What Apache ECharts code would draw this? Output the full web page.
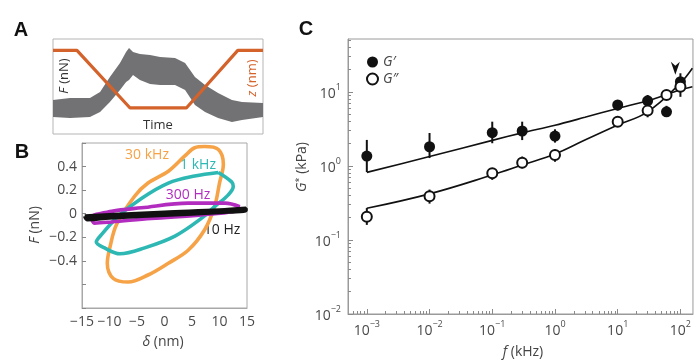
<!DOCTYPE html>
<html>
<head>
<meta charset="utf-8">
<script src="https://cdn.jsdelivr.net/npm/echarts@6/dist/echarts.min.js"></script>
<style>
  html, body { margin: 0; padding: 0; background: #fff; }
  #chart { width: 694px; height: 360px; }
</style>
</head>
<body>
<div id="chart"></div>
<script>
// ---- Panel A: force trace (noisy band) and z ramp, arbitrary units ----
const timeA = [0, 8.1, 17.6, 22.4, 27.1, 31.9, 34.8, 36.2, 38.1, 41.4, 46.2, 51, 58.1, 62.9, 67.6, 72.4, 78.6, 85.2, 90, 100];
const forceTop = [35.8, 37.9, 37.9, 44.2, 60, 74.7, 86.3, 90.5, 86.3, 84.2, 83.2, 81.1, 80, 74.7, 60, 51.6, 43.2, 35.8, 33.7, 32.6];
const forceBottom = [17.9, 16.8, 17.9, 23.2, 33.7, 46.3, 54.7, 56.8, 62.1, 56.8, 52.6, 51.6, 51.6, 46.3, 30.5, 23.2, 16.8, 12.6, 14.7, 17.9];
const zTime = [0, 11.4, 36.7, 63.5, 88, 100];
const zRamp = [88, 88, 27.4, 27.4, 88, 88];

// ---- Panel B: F vs delta loops ----
const loop30k = [[7.3, 0.57], [9.8, 0.545], [10.7, 0.42], [10, 0.26], [9.1, 0.06], [7.3, -0.136], [4.3, -0.31], [0.7, -0.42], [-3, -0.52], [-6.6, -0.58], [-9.3, -0.55], [-10.4, -0.42], [-9.9, -0.28], [-8.7, -0.09], [-5.4, 0.15], [-3, 0.26], [0.7, 0.36], [3.7, 0.49], [5.5, 0.56], [7.3, 0.57]];
const loop1k = [[9.8, 0.35], [12.2, 0.27], [12.5, 0.23], [11.6, 0.16], [9.1, 0.06], [6.7, -0.04], [1.9, -0.19], [-3.6, -0.29], [-8.1, -0.34], [-10.9, -0.29], [-12.4, -0.24], [-11.5, -0.18], [-8.4, -0.02], [-4.2, 0.13], [0.7, 0.26], [5.5, 0.32], [9.8, 0.35]];
const loop300 = [[13.7, 0.06], [11, 0.09], [4.3, 0.09], [-4.2, 0.05], [-9.6, 0.02], [-13.3, -0.03], [-12.7, -0.08], [-9.6, -0.07], [-2.4, -0.04], [6.7, -0.01], [12.7, 0.02], [13.7, 0.06]];
const loop10 = [[-14.5, -0.02], [-10, -0.01], [0, 0.012], [10, 0.03], [14.8, 0.045], [14.8, 0.028], [10, 0.012], [0, -0.012], [-10, -0.035], [-14, -0.05], [-14.5, -0.02]];

// ---- Panel C: G' and G'' vs f (kHz), kPa ----
const freq = [0.001, 0.01, 0.1, 0.3, 1, 10, 30, 60, 100];
const gPrime = [1.36, 1.82, 2.82, 2.97, 2.54, 6.67, 7.6, 5.4, 13.8];
const gPrimeLo = [0.83, 1.28, 2.03, 2.24, 2.07, 5.6, 6.3, 4.7, 10.6];
const gPrimeHi = [2.25, 2.79, 3.97, 3.97, 3.13, 7.8, 9.1, 6.5, 17.9];
const gDouble = [0.206, 0.39, 0.8, 1.11, 1.41, 3.97, 5.6, 9.1, 11.8];
const gDoubleLo = [0.16, 0.31, 0.65, 0.93, 1.14, 3.6, 4.55, 7.8, 8.6];
const gDoubleHi = [0.27, 0.48, 0.93, 1.34, 1.68, 4.3, 6.7, 10.6, 13.8];
const fitFreq = [0.001, 0.01, 0.1, 0.3, 1, 3, 10, 30, 100, 155];
const fitPrime = [0.82, 1.34, 2.22, 2.8, 3.55, 4.55, 6.0, 7.6, 10.7, 11.8];
const fitDouble = [0.268, 0.42, 0.756, 1.03, 1.45, 2.24, 3.58, 5.4, 13.2, 20.9];
const arrowMark = [[83, 21]];
const xMajorC = [-3, -2, -1, 0, 1, 2];
const yMajorC = [-2, -1, 0, 1];

const FONT = '"Open Sans", "Noto Sans", sans-serif';
const LBL = '#4a4a4a';
const lg = Math.log10;
const pairs = (xs, ys) => xs.map((x, i) => [lg(x), lg(ys[i])]);

// minor log ticks inside the visible ranges
const minorTicks = (lo, hi) => {
  const out = [];
  for (let n = Math.floor(lo) - 1; n <= Math.ceil(hi); n++) {
    for (let k = 2; k <= 9; k++) {
      const v = n + lg(k);
      if (v > lo && v < hi) out.push(v);
    }
  }
  return out;
};

const xMinC = -3.30, xMaxC = 2.20, yMinC = -2, yMaxC = 1.716;
const expRich = {
  b: { fontSize: 14, color: LBL, fontFamily: FONT, lineHeight: 18, verticalAlign: 'bottom' },
  s: { fontSize: 9, color: LBL, fontFamily: FONT, lineHeight: 12, verticalAlign: 'top' }
};
const expFmt = v => {
  const e = Math.round(v);
  return '{b|10}{s|' + (e < 0 ? '\u2212' + (-e) : e) + '}';
};
const minusFmt = v => {
  const r = Math.round(v * 10) / 10;
  return r < 0 ? '\u2212' + (-r) : String(r);
};

const chart = echarts.init(document.getElementById('chart'), null, { renderer: 'canvas' });

const errorSeries = (name, xs, lo, hi) => ({
  name: name,
  type: 'custom',
  xAxisIndex: 2,
  yAxisIndex: 2,
  data: xs.map((x, i) => [lg(x), lg(lo[i]), lg(hi[i])]),
  renderItem: (params, api) => {
    const p0 = api.coord([api.value(0), api.value(1)]);
    const p1 = api.coord([api.value(0), api.value(2)]);
    return {
      type: 'line',
      shape: { x1: p0[0], y1: p0[1], x2: p1[0], y2: p1[1] },
      style: { stroke: '#111', lineWidth: 2 }
    };
  },
  z: 3
});

const loopSeries = (data, color, width) => ({
  type: 'line',
  xAxisIndex: 1,
  yAxisIndex: 1,
  data: data,
  smooth: 0.35,
  showSymbol: false,
  lineStyle: { color: color, width: width },
  silent: true
});

const txt = (text, x, y, opts) => Object.assign({
  type: 'text',
  x: x, y: y,
  style: Object.assign({
    text: text,
    fill: '#333',
    font: '14px ' + FONT,
    align: 'center',
    verticalAlign: 'middle'
  }, (opts && opts.style) || {})
}, opts && opts.rotation ? { rotation: opts.rotation } : {});

const italicRich = (color, size) => ({
  i: { fontStyle: 'italic', fontSize: size, fontFamily: FONT, fill: color },
  n: { fontSize: size, fontFamily: FONT, fill: color },
  s: { fontSize: size - 5, fontFamily: FONT, fill: color, verticalAlign: 'top', lineHeight: 8 }
});

chart.setOption({
  backgroundColor: '#fff',
  animation: false,
  grid: [
    { left: 53, top: 39, width: 210, height: 95, show: true, borderColor: '#b5b5b5', borderWidth: 1, backgroundColor: 'transparent' },
    { left: 82, top: 143, width: 165, height: 165, show: true, borderColor: '#a8a8a8', borderWidth: 1, backgroundColor: 'transparent' },
    { left: 348, top: 39, width: 348, height: 275, show: true, borderColor: '#9a9a9a', borderWidth: 1, backgroundColor: 'transparent' }
  ],
  xAxis: [
    { gridIndex: 0, type: 'value', min: 0, max: 100, show: false },
    {
      gridIndex: 1, type: 'value', min: -15, max: 15, interval: 5,
      axisLine: { onZero: false, lineStyle: { color: '#a8a8a8' } },
      axisTick: { show: false },
      splitLine: { show: false },
      axisLabel: { color: LBL, fontSize: 14, fontFamily: FONT, margin: 7, formatter: minusFmt }
    },
    {
      gridIndex: 2, type: 'value', min: xMinC, max: xMaxC, position: 'bottom',
      axisLine: { onZero: false, lineStyle: { color: '#9a9a9a' } },
      axisTick: { inside: true, length: 5, lineStyle: { color: '#8a8a8a' }, customValues: xMajorC },
      splitLine: { show: false },
      axisLabel: { customValues: xMajorC, formatter: expFmt, rich: expRich, margin: 6 }
    },
    {
      gridIndex: 2, type: 'value', min: xMinC, max: xMaxC, position: 'bottom',
      axisLine: { show: false, onZero: false },
      axisTick: { inside: true, length: 3, lineStyle: { color: '#8a8a8a' }, customValues: minorTicks(xMinC, xMaxC) },
      axisLabel: { show: false },
      splitLine: { show: false }
    }
  ],
  yAxis: [
    { gridIndex: 0, type: 'value', min: 0, max: 100, show: false },
    {
      gridIndex: 1, type: 'value', min: -0.8, max: 0.6, interval: 0.2,
      axisLine: { onZero: false, lineStyle: { color: '#a8a8a8' } },
      axisTick: { inside: true, length: 4, lineStyle: { color: '#888' } },
      splitLine: { show: false },
      axisLabel: {
        color: LBL, fontSize: 14, fontFamily: FONT, margin: 5,
        formatter: v => (Math.abs(v) < 0.45 ? minusFmt(v) : '')
      }
    },
    {
      gridIndex: 2, type: 'value', min: yMinC, max: yMaxC, position: 'left',
      axisLine: { onZero: false, lineStyle: { color: '#9a9a9a' } },
      axisTick: { inside: true, length: 5, lineStyle: { color: '#8a8a8a' }, customValues: yMajorC },
      splitLine: { show: false },
      axisLabel: { customValues: yMajorC, formatter: expFmt, rich: expRich, margin: 7 }
    },
    {
      gridIndex: 2, type: 'value', min: yMinC, max: yMaxC, position: 'left',
      axisLine: { show: false, onZero: false },
      axisTick: { inside: true, length: 3, lineStyle: { color: '#8a8a8a' }, customValues: minorTicks(yMinC, yMaxC) },
      axisLabel: { show: false },
      splitLine: { show: false }
    }
  ],
  legend: {
    data: ['G\u2032', 'G\u2033'],
    orient: 'vertical',
    left: 361,
    top: 50,
    itemWidth: 11,
    itemHeight: 11,
    itemGap: 3,
    textStyle: { fontStyle: 'italic', fontSize: 14, color: '#444', fontFamily: FONT },
    selectedMode: false
  },
  series: [
    // panel A
    {
      type: 'custom',
      xAxisIndex: 0,
      yAxisIndex: 0,
      data: [0],
      renderItem: (params, api) => {
        const up = timeA.map((t, i) => api.coord([t, forceTop[i]]));
        const dn = timeA.map((t, i) => api.coord([t, forceBottom[i]])).reverse();
        return {
          type: 'polygon',
          shape: { points: up.concat(dn) },
          style: { fill: '#727274' }
        };
      },
      z: 2
    },
    {
      type: 'line',
      xAxisIndex: 0,
      yAxisIndex: 0,
      data: zTime.map((t, i) => [t, zRamp[i]]),
      showSymbol: false,
      lineStyle: { color: '#d4622b', width: 3.2 },
      z: 3
    },
    // panel B
    loopSeries(loop30k, '#f6a247', 3.6),
    loopSeries(loop1k, '#2db8b4', 3.6),
    loopSeries(loop300, '#b22dbf', 3.6),
    loopSeries(loop10, '#111', 3.8),
    // panel C
    {
      type: 'line',
      xAxisIndex: 2, yAxisIndex: 2,
      data: pairs(fitFreq, fitPrime),
      smooth: 0.3, showSymbol: false,
      lineStyle: { color: '#111', width: 1.6 },
      z: 2
    },
    {
      type: 'line',
      xAxisIndex: 2, yAxisIndex: 2,
      data: pairs(fitFreq, fitDouble),
      smooth: 0.4, showSymbol: false,
      lineStyle: { color: '#111', width: 1.6 },
      z: 2
    },
    errorSeries('errP', freq, gPrimeLo, gPrimeHi),
    errorSeries('errD', freq, gDoubleLo, gDoubleHi),
    {
      name: 'G\u2032',
      type: 'scatter',
      xAxisIndex: 2, yAxisIndex: 2,
      data: pairs(freq, gPrime),
      symbol: 'circle',
      symbolSize: 11,
      itemStyle: { color: '#111', opacity: 1 },
      z: 4
    },
    {
      name: 'G\u2033',
      type: 'scatter',
      xAxisIndex: 2, yAxisIndex: 2,
      data: pairs(freq, gDouble),
      symbol: 'circle',
      symbolSize: 10,
      itemStyle: { color: '#fff', borderColor: '#111', borderWidth: 2, opacity: 1 },
      z: 5
    },
    {
      type: 'scatter',
      xAxisIndex: 2, yAxisIndex: 2,
      data: arrowMark.map(p => [lg(p[0]), lg(p[1])]),
      symbol: 'path://M0,0L5,4L10,0L5,13Z',
      symbolSize: [9, 13],
      itemStyle: { color: '#111', opacity: 1 },
      z: 6
    }
  ],
  graphic: [
    txt('A', 21, 30, { style: { font: 'bold 20px "Liberation Sans", Arial, sans-serif', fill: '#111' } }),
    txt('B', 22, 152, { style: { font: 'bold 20px "Liberation Sans", Arial, sans-serif', fill: '#111' } }),
    txt('C', 306, 29, { style: { font: 'bold 20px "Liberation Sans", Arial, sans-serif', fill: '#111' } }),
    txt('Time', 158, 125, { style: { font: '13px ' + FONT, fill: '#333' } }),
    txt('{i|F} {n|(nN)}', 64, 76, { rotation: Math.PI / 2, style: { rich: italicRich('#333', 13) } }),
    txt('{i|z} {n|(nm)}', 252, 78, { rotation: Math.PI / 2, style: { rich: italicRich('#d4622b', 13) } }),
    txt('30 kHz', 147, 155, { style: { fill: '#f6a247' } }),
    txt('1 kHz', 198, 165, { style: { fill: '#2db8b4' } }),
    txt('300 Hz', 188, 195, { style: { fill: '#b22dbf' } }),
    txt('10 Hz', 222, 230, { style: { fill: '#222' } }),
    txt('{i|F} {n|(nN)}', 35, 225, { rotation: Math.PI / 2, style: { rich: italicRich('#444', 14) } }),
    txt('{i|\u03b4} {n|(nm)}', 163, 342, { style: { rich: italicRich('#444', 14) } }),
    txt('{i|G}{s|*} {n|(kPa)}', 302, 167, { rotation: Math.PI / 2, style: { rich: italicRich('#444', 14) } }),
    txt('{i|f} {n|(kHz)}', 523, 352, { style: { rich: italicRich('#444', 14) } })
  ]
});
</script>
</body>
</html>
